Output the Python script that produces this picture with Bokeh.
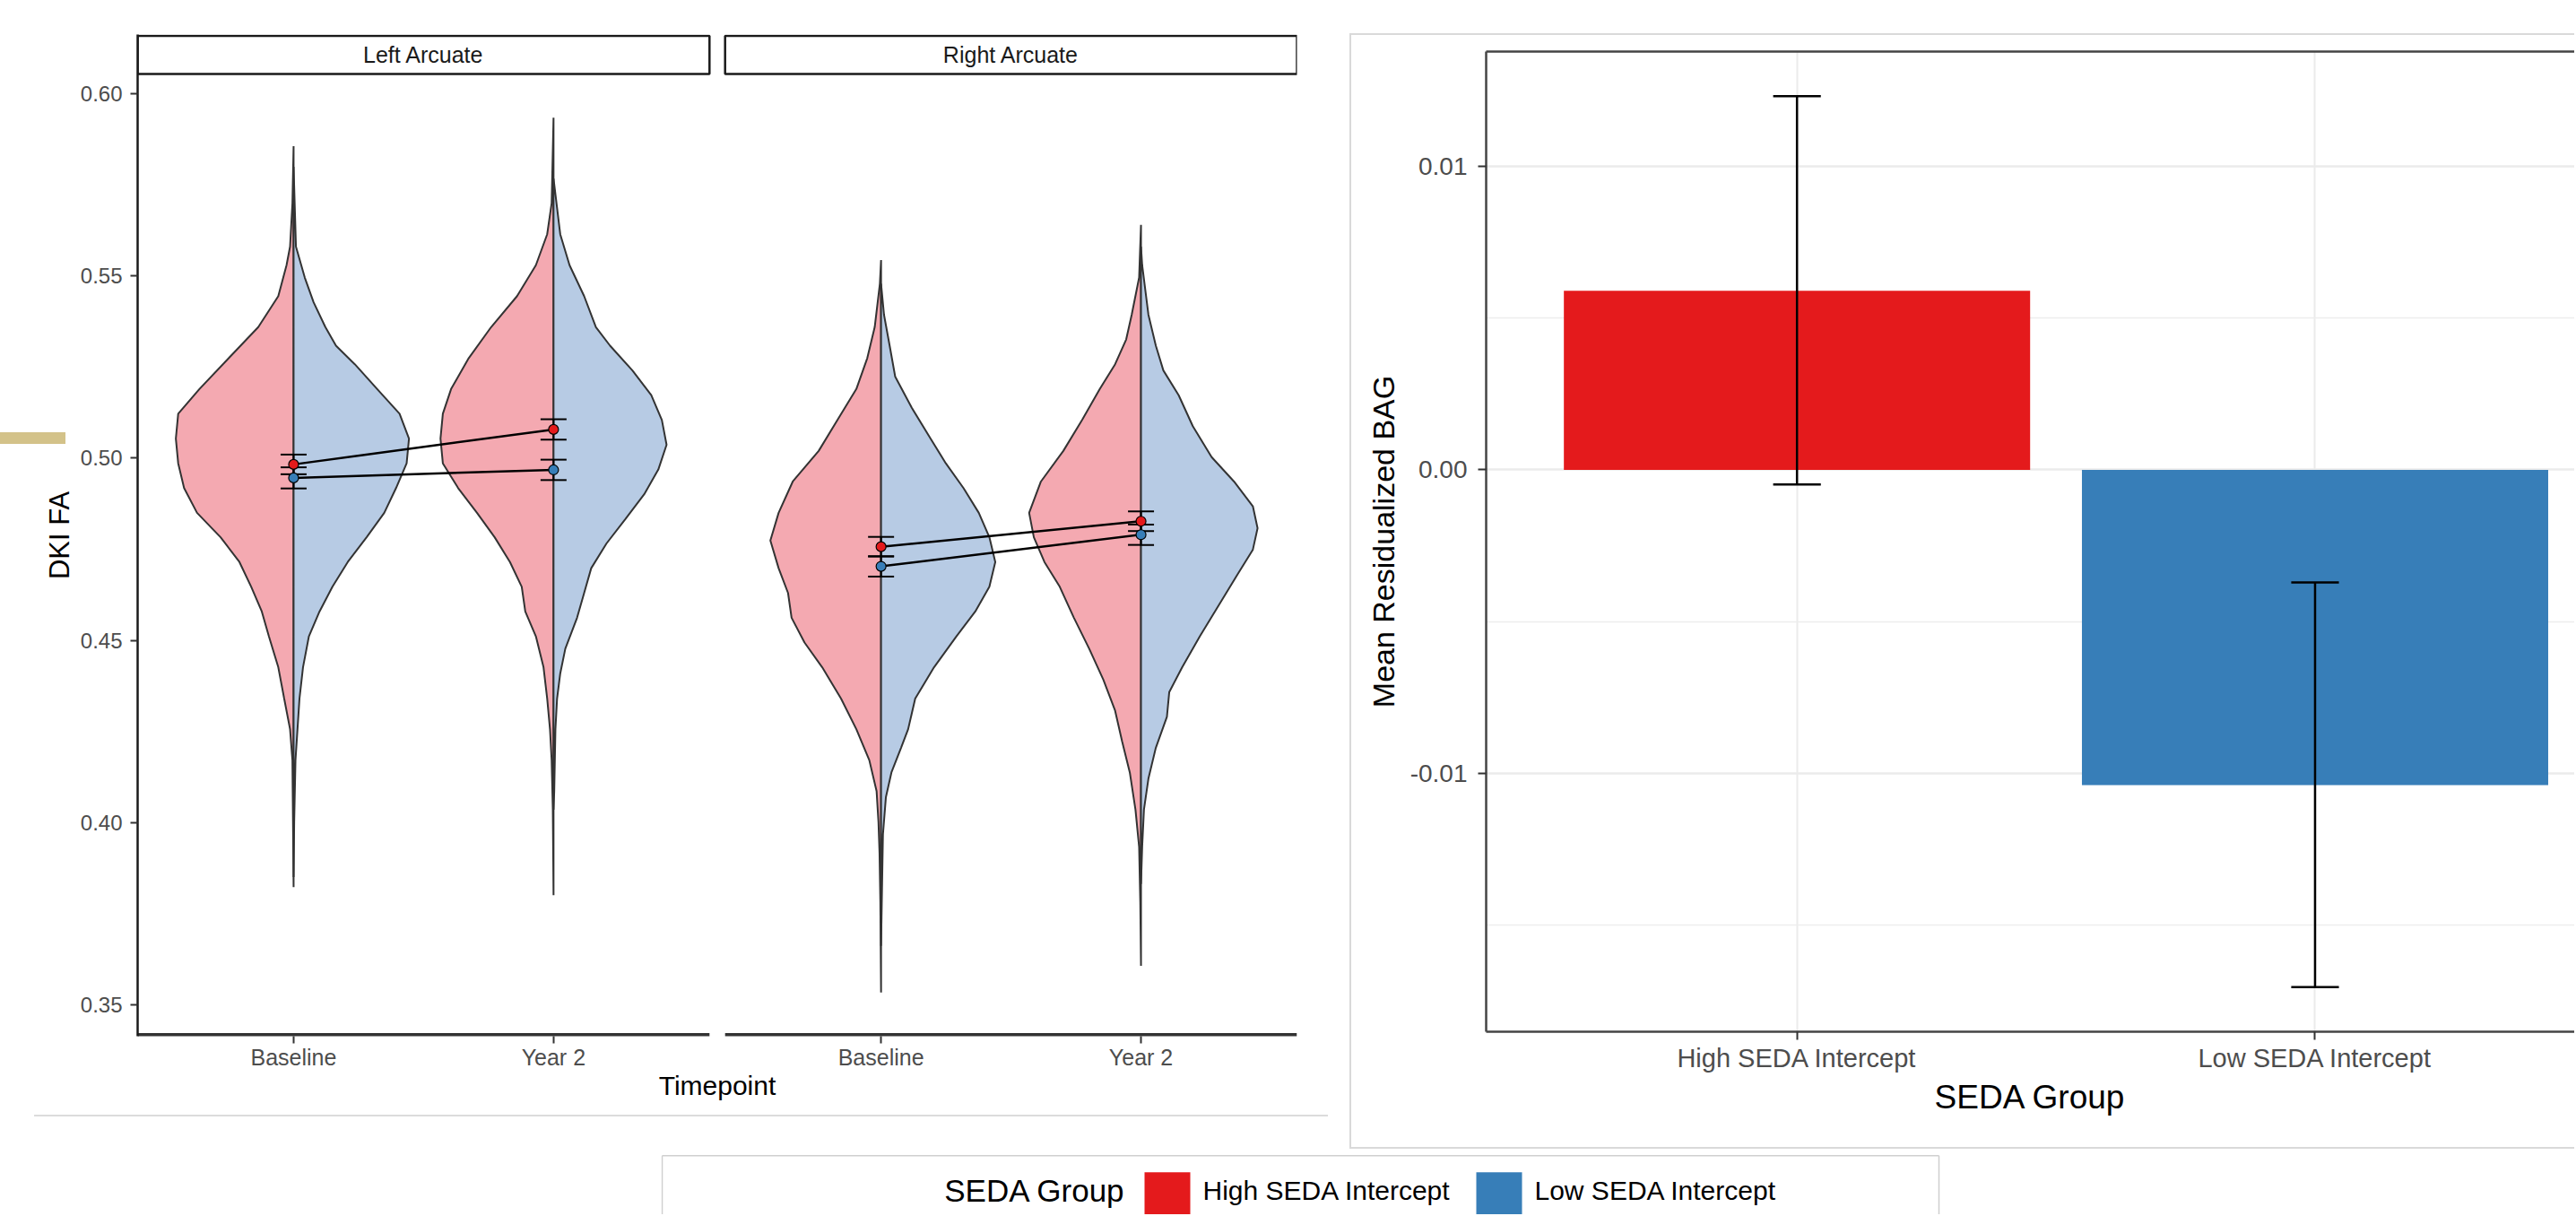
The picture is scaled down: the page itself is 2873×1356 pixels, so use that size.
import numpy as np
from bokeh.plotting import figure
from bokeh.models import (Range1d, FixedTicker, NumeralTickFormatter, LinearAxis, Spacer)
from bokeh.layouts import row, column
from bokeh.embed import file_html
from bokeh.resources import INLINE
from bokeh.core.properties import value

FONT = "Liberation Sans"

# ------------------------------------------------------------------ data
timepoints = ["Baseline", "Year 2"]
tracts = ["Left Arcuate", "Right Arcuate"]
groups = ["High SEDA Intercept", "Low SEDA Intercept"]
group_colors = ["#E41A1C", "#377EB8"]
violin_fills = ["#F4A9B1", "#B7CBE4"]

# violin profiles: DKI FA value and relative density (split violins)
la_base_high_fa = [0.5857, 0.5700, 0.5581, 0.5530, 0.5445, 0.5360, 0.5275, 0.5190, 0.5122, 0.5054, 0.4986, 0.4918,
                   0.4850, 0.4783, 0.4715, 0.4647, 0.4579, 0.4511, 0.4426, 0.4340, 0.4256, 0.4171, 0.4001, 0.3822]
la_base_high_dens = [0.0, 0.01, 0.03, 0.06, 0.13, 0.30, 0.55, 0.80, 0.98, 1.00, 0.98, 0.93,
                     0.82, 0.62, 0.46, 0.36, 0.27, 0.21, 0.13, 0.08, 0.03, 0.01, 0.005, 0.0]
la_base_low_fa = [0.5800, 0.5581, 0.5496, 0.5428, 0.5360, 0.5309, 0.5258, 0.5190, 0.5122, 0.5054, 0.4986, 0.4918,
                  0.4850, 0.4783, 0.4715, 0.4647, 0.4579, 0.4511, 0.4426, 0.4340, 0.4171, 0.4001, 0.3850]
la_base_low_dens = [0.0, 0.02, 0.095, 0.17, 0.27, 0.36, 0.52, 0.71, 0.90, 0.98, 0.96, 0.87,
                    0.77, 0.62, 0.46, 0.33, 0.22, 0.13, 0.08, 0.05, 0.016, 0.005, 0.0]
la_y2_high_fa = [0.5935, 0.5700, 0.5615, 0.5530, 0.5445, 0.5360, 0.5275, 0.5190, 0.5122, 0.5054, 0.4986, 0.4918,
                 0.4850, 0.4783, 0.4715, 0.4647, 0.4579, 0.4511, 0.4426, 0.4340, 0.4256, 0.4171, 0.4035, 0.3800]
la_y2_high_dens = [0.0, 0.016, 0.054, 0.15, 0.31, 0.53, 0.72, 0.87, 0.94, 0.96, 0.94, 0.81,
                   0.65, 0.50, 0.37, 0.27, 0.24, 0.15, 0.085, 0.054, 0.03, 0.016, 0.006, 0.0]
la_y2_low_fa = [0.5768, 0.5615, 0.5530, 0.5445, 0.5360, 0.5309, 0.5241, 0.5173, 0.5105, 0.5037, 0.4969, 0.4901,
                0.4833, 0.4766, 0.4698, 0.4630, 0.4562, 0.4477, 0.4409, 0.4340, 0.4256, 0.4086, 0.4035]
la_y2_low_dens = [0.0, 0.057, 0.136, 0.26, 0.36, 0.48, 0.67, 0.83, 0.92, 0.96, 0.89, 0.77,
                  0.61, 0.45, 0.32, 0.26, 0.20, 0.10, 0.057, 0.03, 0.016, 0.006, 0.0]
ra_base_high_fa = [0.5544, 0.5479, 0.5360, 0.5275, 0.5190, 0.5105, 0.5020, 0.4936, 0.4850, 0.4774, 0.4698, 0.4630,
                   0.4562, 0.4494, 0.4426, 0.4340, 0.4256, 0.4171, 0.4086, 0.4001, 0.3916, 0.3780, 0.3533]
ra_base_high_dens = [0.0, 0.01, 0.054, 0.117, 0.21, 0.37, 0.53, 0.75, 0.87, 0.94, 0.87, 0.79,
                     0.76, 0.65, 0.50, 0.34, 0.21, 0.10, 0.038, 0.022, 0.013, 0.006, 0.0]
ra_base_low_fa = [0.5479, 0.5394, 0.5309, 0.5224, 0.5139, 0.5054, 0.4986, 0.4918, 0.4850, 0.4783, 0.4715, 0.4647,
                  0.4579, 0.4511, 0.4426, 0.4340, 0.4256, 0.4205, 0.4137, 0.4069, 0.3967, 0.3780, 0.3661]
ra_base_low_dens = [0.0, 0.025, 0.073, 0.12, 0.26, 0.42, 0.55, 0.70, 0.83, 0.92, 0.97, 0.92,
                    0.80, 0.64, 0.45, 0.29, 0.23, 0.17, 0.088, 0.041, 0.016, 0.006, 0.0]
ra_y2_high_fa = [0.5641, 0.5496, 0.5394, 0.5326, 0.5258, 0.5190, 0.5105, 0.5020, 0.4936, 0.4850, 0.4783, 0.4715,
                 0.4647, 0.4562, 0.4477, 0.4392, 0.4307, 0.4222, 0.4137, 0.4035, 0.3933, 0.3780, 0.3606]
ra_y2_high_dens = [0.0, 0.016, 0.079, 0.126, 0.22, 0.35, 0.50, 0.66, 0.85, 0.95, 0.91, 0.82,
                   0.69, 0.57, 0.44, 0.32, 0.22, 0.16, 0.095, 0.047, 0.016, 0.006, 0.0]
ra_y2_low_fa = [0.5581, 0.5530, 0.5394, 0.5309, 0.5241, 0.5173, 0.5088, 0.5003, 0.4936, 0.4868, 0.4808, 0.4749,
                0.4681, 0.4596, 0.4511, 0.4426, 0.4358, 0.4290, 0.4205, 0.4120, 0.4035, 0.3933, 0.3831]
ra_y2_low_dens = [0.0, 0.01, 0.063, 0.126, 0.19, 0.32, 0.44, 0.60, 0.79, 0.95, 0.99, 0.95,
                  0.82, 0.66, 0.50, 0.35, 0.24, 0.22, 0.126, 0.063, 0.025, 0.01, 0.0]

# group means and standard errors of DKI FA (Baseline, Year 2)
la_mean_high = [0.4983, 0.5079]
la_se_high = [0.0027, 0.0028]
la_mean_low = [0.4946, 0.4968]
la_se_low = [0.0029, 0.0028]
ra_mean_high = [0.4757, 0.4827]
ra_se_high = [0.0027, 0.0027]
ra_mean_low = [0.4703, 0.4790]
ra_se_low = [0.0028, 0.0028]

# right panel: mean residualized brain age gap by SEDA group
bag_mean = [0.005894, -0.010383]
bag_lo = [-0.000486, -0.017032]
bag_hi = [0.012303, -0.003711]

# ------------------------------------------------------------------ helpers
AX = "#1A1A1A"
TICK_LBL = "#4D4D4D"
FACET_GAP = 0.06
FACET_OFFSET = 2.2 + FACET_GAP
VIOLIN_HALF = 0.453


def xpos(tract_i, time_i):
    return 1 + time_i + tract_i * FACET_OFFSET


def bar_css(color, x, y, w, h):
    return f"linear-gradient({color}, {color}) {x}px {y}px / {w}px {h}px no-repeat"


violins = [
    (0, 0, 0, la_base_high_fa, la_base_high_dens), (0, 0, 1, la_base_low_fa, la_base_low_dens),
    (0, 1, 0, la_y2_high_fa, la_y2_high_dens), (0, 1, 1, la_y2_low_fa, la_y2_low_dens),
    (1, 0, 0, ra_base_high_fa, ra_base_high_dens), (1, 0, 1, ra_base_low_fa, ra_base_low_dens),
    (1, 1, 0, ra_y2_high_fa, ra_y2_high_dens), (1, 1, 1, ra_y2_low_fa, ra_y2_low_dens),
]
means = {(0, 0): la_mean_high, (0, 1): la_mean_low, (1, 0): ra_mean_high, (1, 1): ra_mean_low}
ses = {(0, 0): la_se_high, (0, 1): la_se_low, (1, 0): ra_se_high, (1, 1): ra_se_low}

all_fa = np.concatenate([np.array(v[3]) for v in violins])
fa_lo, fa_hi = all_fa.min(), all_fa.max()
pad = 0.05 * (fa_hi - fa_lo)
panel_bottom = fa_lo - pad
panel_top = fa_hi + pad
FRAME_H = 1117
STRIP_PX = 44
PANEL_PX = FRAME_H - STRIP_PX
strip_h = (panel_top - panel_bottom) * STRIP_PX / PANEL_PX
y_end = panel_top + strip_h
eps = (y_end - panel_bottom) * 1.5 / FRAME_H

x_start, x_end = 0.4, 0.4 + FACET_OFFSET + 2.2

# ------------------------------------------------------------------ left figure
LEFT_W, TOP_H = 1495, 1284
left_bg = ", ".join([bar_css("#D3C289", 0, 482, 73, 13), bar_css("#DCDCDC", 38, 1243, 1443, 2)])
pl = figure(width=LEFT_W, height=TOP_H, x_range=Range1d(x_start, x_end),
            y_range=Range1d(panel_bottom, y_end), output_backend="svg", toolbar_location=None,
            min_border_left=153, min_border_right=49, min_border_top=38, min_border_bottom=129,
            background_fill_color="white", border_fill_alpha=0, frame_align=False,
            styles={"background": left_bg})
pl.xgrid.visible = False
pl.ygrid.visible = False
pl.outline_line_color = None

# violins
xs, ys, fills = [], [], []
for t, tp, g, fa, dens in violins:
    c = xpos(t, tp)
    sign = -1 if g == 0 else 1
    xs.append([c + sign * VIOLIN_HALF * d for d in dens])
    ys.append(list(fa))
    fills.append(violin_fills[g])
pl.patches(xs=xs, ys=ys, fill_color=fills, fill_alpha=1.0, line_color="#333333", line_width=2)

# mean lines, error bars, points
for t in range(2):
    for g in range(2):
        m = means[(t, g)]
        s = ses[(t, g)]
        px = [xpos(t, 0), xpos(t, 1)]
        pl.line(px, m, line_color="black", line_width=2.5)
        lo = [mi - si for mi, si in zip(m, s)]
        hi = [mi + si for mi, si in zip(m, s)]
        pl.segment(x0=px, x1=px, y0=lo, y1=hi, line_color="black", line_width=2)
        cw = 0.05
        pl.segment(x0=[p - cw for p in px] * 2, x1=[p + cw for p in px] * 2,
                   y0=lo + hi, y1=lo + hi, line_color="black", line_width=2)
for t in range(2):
    for g in range(2):
        m = means[(t, g)]
        px = [xpos(t, 0), xpos(t, 1)]
        pl.scatter(px, m, size=11, fill_color=group_colors[g], line_color="black", line_width=1.2)

# facet strips
strip_left = [x_start, x_start + FACET_OFFSET]
strip_right = [x_start + 2.2, x_start + FACET_OFFSET + 2.2]
pl.quad(left=strip_left, right=strip_right, bottom=[panel_top] * 2, top=[y_end - eps] * 2,
        fill_color="white", line_color=AX, line_width=2.5)
pl.text(x=[(a + b) / 2 for a, b in zip(strip_left, strip_right)], y=[panel_top + strip_h / 2] * 2,
        text=tracts, text_font=value(FONT), text_font_size="25px", text_color=AX,
        text_align="center", text_baseline="middle")

# broken x-axis line (one per facet)
pl.segment(x0=strip_left, x1=strip_right, y0=[panel_bottom] * 2, y1=[panel_bottom] * 2,
           line_color="#333333", line_width=7)

xt = [xpos(t, i) for t in range(2) for i in range(2)]
xa = pl.xaxis[0]
xa.ticker = FixedTicker(ticks=xt)
xa.major_label_overrides = {xpos(t, i): timepoints[i] for t in range(2) for i in range(2)}
xa.axis_line_color = None
xa.major_tick_line_color = "#333333"
xa.major_tick_line_width = 2
xa.major_tick_out = 8
xa.major_tick_in = 0
xa.minor_tick_line_color = None
xa.major_label_text_font = FONT
xa.major_label_text_font_size = "25px"
xa.major_label_text_color = TICK_LBL
xa.major_label_standoff = 1
xa.axis_label = "Timepoint"
xa.axis_label_text_font = FONT
xa.axis_label_text_font_size = "30px"
xa.axis_label_text_font_style = "normal"
xa.axis_label_text_color = "black"
xa.axis_label_standoff = -2

ya = pl.yaxis[0]
ya.ticker = FixedTicker(ticks=[0.35, 0.40, 0.45, 0.50, 0.55, 0.60])
ya.formatter = NumeralTickFormatter(format="0.00")
ya.axis_line_color = AX
ya.axis_line_width = 2.5
ya.major_tick_line_color = "#333333"
ya.major_tick_line_width = 2
ya.major_tick_out = 8
ya.major_tick_in = 0
ya.minor_tick_line_color = None
ya.major_label_text_font = FONT
ya.major_label_text_font_size = "24px"
ya.major_label_text_color = TICK_LBL
ya.major_label_standoff = 9
ya.axis_label = "DKI FA"
ya.axis_label_text_font = FONT
ya.axis_label_text_font_size = "31px"
ya.axis_label_text_font_style = "normal"
ya.axis_label_text_color = "black"
ya.axis_label_standoff = 3

# ------------------------------------------------------------------ right figure
r_lo = min(bag_lo)
r_hi = max(bag_hi)
r_pad = 0.05 * (r_hi - r_lo)
RIGHT_W = 1376
RIGHT_BORDER_L = 162
PX_PER_CAT = 577.8
CARD = "#D9D9D9"
right_bg = ", ".join([bar_css(CARD, 10, 37, 2, 1244), bar_css(CARD, 10, 37, RIGHT_W, 2),
                      bar_css(CARD, 10, 1279, RIGHT_W, 2)])
pr = figure(width=RIGHT_W, height=TOP_H,
            x_range=Range1d(0.4, 0.4 + (RIGHT_W - RIGHT_BORDER_L) / PX_PER_CAT),
            y_range=Range1d(r_lo - r_pad, r_hi + r_pad), output_backend="svg", toolbar_location=None,
            min_border_left=RIGHT_BORDER_L, min_border_right=0, min_border_top=57, min_border_bottom=134,
            background_fill_color="white", border_fill_alpha=0, frame_align=False,
            styles={"background": right_bg})
pr.outline_line_color = None
pr.ygrid.ticker = FixedTicker(ticks=[-0.01, 0.0, 0.01], minor_ticks=[-0.015, -0.005, 0.005])
pr.ygrid.grid_line_color = "#EBEBEB"
pr.ygrid.grid_line_width = 2.5
pr.ygrid.minor_grid_line_color = "#EDEDED"
pr.ygrid.minor_grid_line_width = 1.3
pr.xgrid.ticker = FixedTicker(ticks=[1, 2])
pr.xgrid.grid_line_color = "#EBEBEB"
pr.xgrid.grid_line_width = 2

cats = [1, 2]
pr.vbar(x=cats, top=bag_mean, bottom=0, width=0.9, fill_color=group_colors, line_color=None)
cap = 0.046
pr.segment(x0=cats, x1=cats, y0=bag_lo, y1=bag_hi, line_color="black", line_width=2.5)
pr.segment(x0=[c - cap for c in cats] * 2, x1=[c + cap for c in cats] * 2,
           y0=bag_lo + bag_hi, y1=bag_lo + bag_hi, line_color="black", line_width=2.5)

bx = pr.below[0]
bx.ticker = FixedTicker(ticks=cats)
bx.major_label_overrides = {c: g for c, g in zip(cats, groups)}
bx.axis_line_color = "#444444"
bx.axis_line_width = 2.5
bx.major_tick_line_color = "#333333"
bx.major_tick_line_width = 2
bx.major_tick_out = 9
bx.major_tick_in = 0
bx.minor_tick_line_color = None
bx.major_label_text_font = FONT
bx.major_label_text_font_size = "29px"
bx.major_label_text_color = TICK_LBL
bx.major_label_standoff = 4
bx.axis_label = "SEDA Group"
bx.axis_label_text_font = FONT
bx.axis_label_text_font_size = "37px"
bx.axis_label_text_font_style = "normal"
bx.axis_label_text_color = "black"
bx.axis_label_standoff = 4

ly = pr.left[0]
ly.ticker = FixedTicker(ticks=[-0.01, 0.0, 0.01])
ly.formatter = NumeralTickFormatter(format="0.00")
ly.axis_line_color = "#444444"
ly.axis_line_width = 2.5
ly.major_tick_line_color = "#333333"
ly.major_tick_line_width = 2
ly.major_tick_out = 9
ly.major_tick_in = 0
ly.minor_tick_line_color = None
ly.major_label_text_font = FONT
ly.major_label_text_font_size = "28px"
ly.major_label_text_color = TICK_LBL
ly.major_label_standoff = 12
ly.axis_label = "Mean Residualized BAG"
ly.axis_label_text_font = FONT
ly.axis_label_text_font_size = "34px"
ly.axis_label_text_font_style = "normal"
ly.axis_label_text_color = "black"
ly.axis_label_standoff = 8

top_ax = LinearAxis(ticker=FixedTicker(ticks=[]), major_label_text_font_size="0px",
                    axis_line_color="#444444", axis_line_width=2.5,
                    major_tick_line_color=None, minor_tick_line_color=None)
pr.add_layout(top_ax, "above")

# ------------------------------------------------------------------ legend
LW, LH = 1428, 70
pg = figure(width=LW, height=LH, x_range=Range1d(0, LW), y_range=Range1d(LH, 0),
            output_backend="svg", toolbar_location=None, x_axis_type=None, y_axis_type=None,
            min_border=0, min_border_left=0, min_border_right=0, min_border_top=0, min_border_bottom=0,
            background_fill_color="white", border_fill_color="white", frame_align=False)
pg.grid.visible = False
pg.outline_line_color = None
pg.segment(x0=[1, 1, LW - 3], x1=[LW - 3, 1, LW - 3], y0=[4.3, 4.3, 4.3], y1=[4.3, LH + 5, LH + 5],
           line_color="#CFCFCF", line_width=1.5)
key_left = [539, 909]
key_w = 51
pg.quad(left=key_left, right=[k + key_w for k in key_left], top=[22.7] * 2, bottom=[LH + 10] * 2,
        fill_color=group_colors, line_color=None)
TEXT_Y = 43
pg.text(x=[518], y=[TEXT_Y], text=["SEDA Group"], text_font=value(FONT), text_font_size="35px",
        text_color="black", text_align="right", text_baseline="middle")
pg.text(x=[k + key_w + 14 for k in key_left], y=[TEXT_Y] * 2, text=groups, text_font=value(FONT),
        text_font_size="30px", text_color="black", text_align="left", text_baseline="middle")

layout = column(row(pl, pr), row(Spacer(width=737, height=LH), pg))

with open("out.html", "w") as f:
    f.write(file_html(layout, INLINE))
